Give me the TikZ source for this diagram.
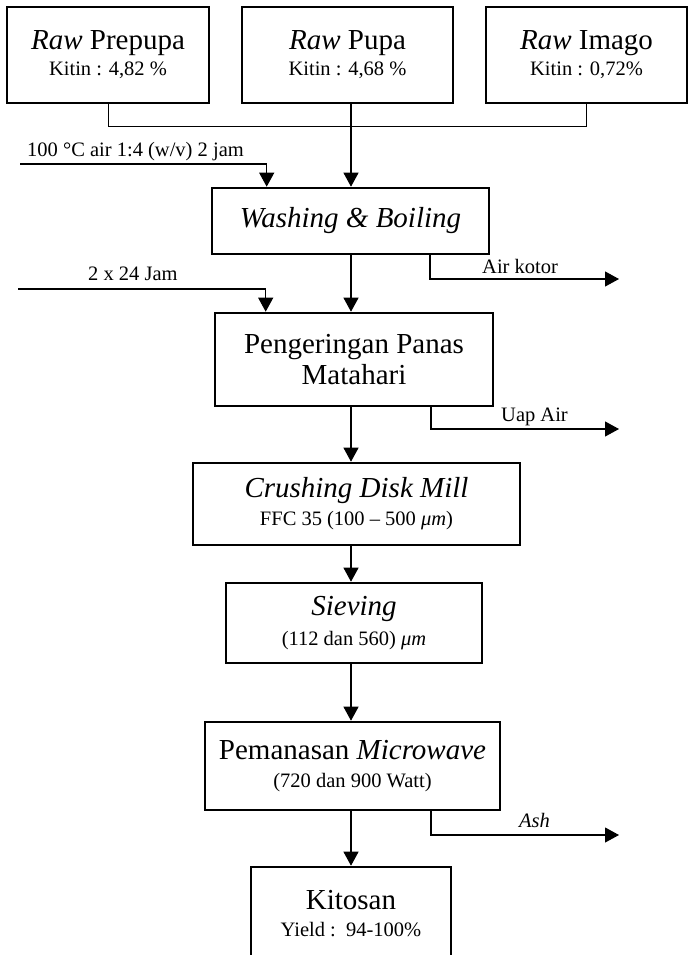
\documentclass[tikz,border=0pt]{standalone}
\usepackage{fontspec}
\setmainfont{Liberation Serif}
\usetikzlibrary{arrows.meta}

\tikzset{
  box/.style={draw, line width=2.6pt, align=center, inner sep=0pt},
  link/.style={line width=1pt},
  flow/.style={line width=1.1pt, -{Triangle[width=15pt,length=14pt]}},
  side/.style={inner sep=0pt, font=\fontsize{20.5}{24}\selectfont},
}
\newcommand{\headtxt}[1]{{\fontsize{29}{26}\selectfont #1}}

\begin{document}
\begin{tikzpicture}[x=1pt, y=-1pt]
  \useasboundingbox (0,0) rectangle (689,955);
  \clip (0,0) rectangle (689,955);

  \coordinate (spine) at (351,0);
  \coordinate (merge) at (351,127);

  \node[box, minimum width=202pt, minimum height=96pt, font=\fontsize{20.5}{26}\selectfont]
    (prepupa) at (108,55) {\headtxt{\textit{Raw} Prepupa}\\Kitin : 4,82 \%};
  \node[box, minimum width=211pt, minimum height=96pt, font=\fontsize{20.5}{26}\selectfont]
    (pupa) at (347.5,55) {\headtxt{\textit{Raw} Pupa}\\Kitin : 4,68 \%};
  \node[box, minimum width=201pt, minimum height=96pt, font=\fontsize{20.5}{26}\selectfont]
    (imago) at (586.5,55) {\headtxt{\textit{Raw} Imago}\\Kitin : 0,72\%};

  \node[box, minimum width=277pt, minimum height=66pt, font=\fontsize{29}{31}\selectfont]
    (wash) at (350.5,221) {\textit{Washing \& Boiling}};
  \node[box, minimum width=278pt, minimum height=93pt, font=\fontsize{29}{31}\selectfont]
    (dry) at (354,359.5) {Pengeringan Panas\\Matahari};
  \node[box, minimum width=327pt, minimum height=82pt, font=\fontsize{20.5}{28}\selectfont]
    (crush) at (356.5,504) {\headtxt{\textit{Crushing Disk Mill}}\\FFC 35 (100 – 500 \textit{μm})};
  \node[box, minimum width=256pt, minimum height=80pt, font=\fontsize{20.5}{30}\selectfont]
    (sieve) at (354,623) {\headtxt{\textit{Sieving}}\\(112 dan 560) \textit{μm}};
  \node[box, minimum width=295pt, minimum height=88pt, font=\fontsize{20.5}{28}\selectfont]
    (micro) at (352.5,766) {\headtxt{Pemanasan \textit{Microwave}}\\(720 dan 900 Watt)};
  \node[box, minimum width=200pt, minimum height=94pt, font=\fontsize{20.5}{27}\selectfont]
    (chito) at (351,914) {\headtxt{Kitosan}\\Yield :\ \ 94-100\%};

  \draw[link] (prepupa.south) |- (merge -| imago.south) -- (imago.south);
  \draw[flow] (pupa.south -| spine) -- (wash.north -| spine);
  \draw[flow] (wash.south -| spine) -- (dry.north -| spine);
  \draw[flow] (dry.south -| spine) -- (crush.north -| spine);
  \draw[flow] (crush.south -| spine) -- (sieve.north -| spine);
  \draw[flow] (sieve.south -| spine) -- (micro.north -| spine);
  \draw[flow] (micro.south -| spine) -- (chito.north -| spine);

  \coordinate (in1) at (20,164);
  \coordinate (in2) at (18,289);
  \draw[flow] (in1) -| ([xshift=56pt]wash.north west);
  \draw[flow] (in2) -| ([xshift=52pt]dry.north west);
  \node[side, anchor=base west] (lblboil) at (27,157) {100 °C air 1:4 (w/v) 2 jam};
  \node[side, anchor=base west] (lbldry) at (88,280) {2 x 24 Jam};

  \coordinate (out1) at (619,279);
  \coordinate (out2) at (619,429);
  \coordinate (out3) at (619,835);
  \draw[flow] (430,0 |- wash.south) |- (out1);
  \draw[flow] (431,0 |- dry.south) |- (out2);
  \draw[flow] (431,0 |- micro.south) |- (out3);
  \node[side, anchor=base west] (lblkotor) at (482,273) {Air kotor};
  \node[side, anchor=base west] (lbluap) at (501,421) {Uap Air};
  \node[side, anchor=base west] (lblash) at (519,827) {\textit{Ash}};
\end{tikzpicture}
\end{document}
